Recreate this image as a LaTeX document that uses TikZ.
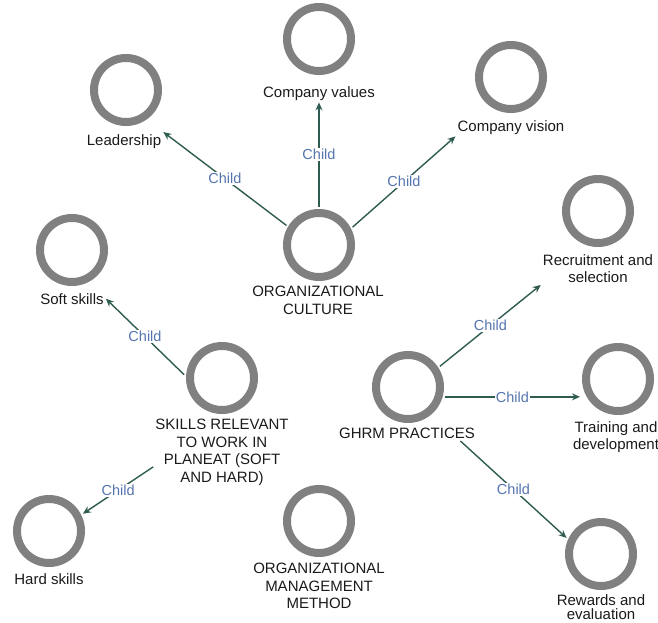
\documentclass[tikz,border=0pt]{standalone}
\usepackage{fontspec}
\setmainfont{Liberation Sans}
\usetikzlibrary{arrows.meta}
\definecolor{ringgray}{RGB}{128,128,128}
\definecolor{arrowgreen}{RGB}{47,92,80}
\definecolor{childblue}{RGB}{85,117,176}
\definecolor{labelblack}{RGB}{26,26,26}
\tikzset{
  ring/.style={circle, draw=ringgray, line width=8pt, minimum size=64pt, inner sep=0pt, outer sep=6pt},
  lab/.style={anchor=north, align=center, inner sep=2pt, text=labelblack, font=\fontsize{15}{17.5}\selectfont},
  arr/.style={draw=arrowgreen, line width=1.4pt, -{Stealth[length=8pt,width=7pt]}},
  childlab/.style={midway, fill=white, inner sep=1pt, text=childblue, font=\fontsize{14.5}{17}\selectfont}
}
\begin{document}
\begin{tikzpicture}[x=1pt,y=-1pt]
\useasboundingbox (0,0) rectangle (658,623);
% circles
\node[ring] (leader) at (126,90) {};
\node[ring] (values) at (319,39) {};
\node[ring] (vision) at (511,77) {};
\node[ring] (culture) at (319,245) {};
\node[ring] (recruit) at (598,211) {};
\node[ring] (soft) at (72,250) {};
\node[ring] (skills) at (222,378) {};
\node[ring] (ghrm) at (408,387) {};
\node[ring] (train) at (618,379) {};
\node[ring] (rewards) at (601,554) {};
\node[ring] (hard) at (49,531) {};
\node[ring] (mgmt) at (319,521) {};
% labels
\node[lab] (leaderL) at (124,132) {Leadership};
\node[lab] (valuesL) at (319,84) {Company values};
\node[lab] (visionL) at (511,118) {Company vision};
\node[lab] (cultureL) at (318,284) {ORGANIZATIONAL\\CULTURE};
\node[lab] (recruitL) at (598,252) {Recruitment and\\selection};
\node[lab] (softL) at (72,291) {Soft skills};
\node[lab] (skillsL) at (222,417) {SKILLS RELEVANT\\TO WORK IN\\PLANEAT (SOFT\\AND HARD)};
\node[lab] (ghrmL) at (407,426) {GHRM PRACTICES};
\node[lab] (trainL) at (616,419) {Training and\\development};
\node[lab, font=\fontsize{15}{14.5}\selectfont] (rewardsL) at (601,592) {Rewards and\\evaluation};
\node[lab] (hardL) at (49,571) {Hard skills};
\node[lab] (mgmtL) at (319,561) {ORGANIZATIONAL\\MANAGEMENT\\METHOD};
% connectors
\draw[arr] (culture.149) -- node[childlab] {Child} (leaderL.north east);
\draw[arr] (culture.90) -- node[childlab] {Child} (valuesL.south);
\draw[arr] (culture.28) -- node[childlab] {Child} (visionL.south west);
\draw[arr] (skills.175) -- node[childlab] {Child} (softL.east);
\draw[arr] (skillsL.192) -- node[childlab] {Child} (hard.27);
\draw[arr] (ghrm.33) -- node[childlab] {Child} (recruitL.south west);
\draw[arr] (ghrm.-15) -- node[childlab] {Child} (ghrm.-15 -| train.west);
\draw[arr] (ghrmL.-8) -- node[childlab] {Child} (rewards.155);
\end{tikzpicture}
\end{document}
